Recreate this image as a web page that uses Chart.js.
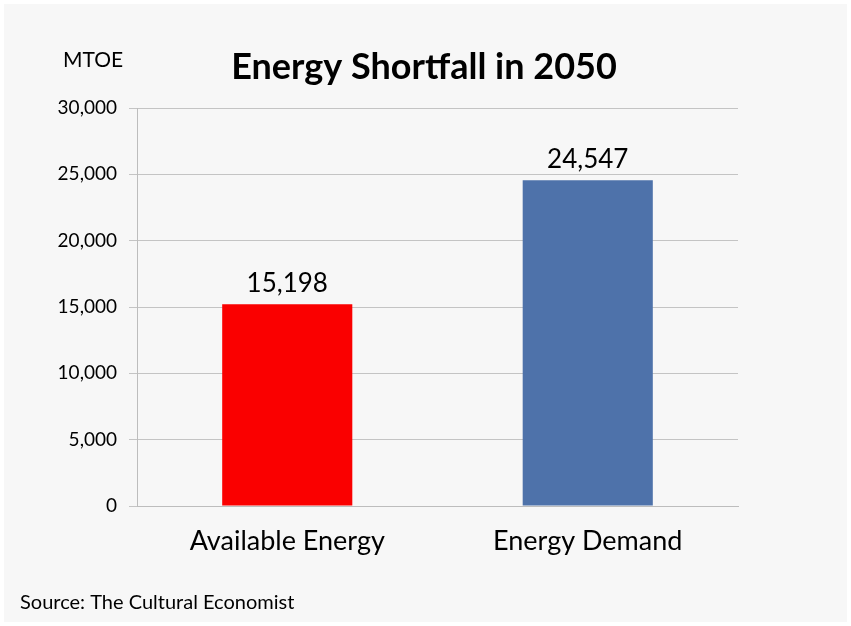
<!DOCTYPE html>
<html>
<head>
<meta charset="utf-8">
<script src="https://cdn.jsdelivr.net/npm/chart.js@4.4.1/dist/chart.umd.min.js"></script>
<style>
  html, body { margin: 0; padding: 0; background: #f7f7f7; }
  #wrap { position: relative; width: 851px; height: 626px; }
</style>
</head>
<body>
<div id="wrap"><canvas id="chart" width="851" height="626"></canvas></div>
<script>
// chart data
const categories = ['Available Energy', 'Energy Demand'];
const values = [15198, 24547];
const barColors = ['#fa0000', '#4e72aa'];
const yTicks = [0, 5000, 10000, 15000, 20000, 25000, 30000];

const chartTitle = 'Energy Shortfall in 2050';
const unitLabel = 'MTOE';
const sourceText = 'Source: The Cultural Economist';

const FONT = 'Lato, "Open Sans", sans-serif';
const fmt = v => v.toLocaleString('en-US');

// background, title, unit label, source and value labels
const decorPlugin = {
    id: 'decor',
    beforeDraw(chart) {
        const c = chart.ctx;
        c.save();
        c.fillStyle = '#ffffff';
        c.fillRect(0, 0, chart.width, chart.height);
        c.fillStyle = '#f7f7f7';
        c.fillRect(4, 4, chart.width - 8, chart.height - 8);
        c.restore();
    },
    afterDatasetsDraw(chart) {
        const c = chart.ctx;
        c.save();
        c.fillStyle = '#000';
        c.textAlign = 'center';
        c.textBaseline = 'middle';
        c.font = 'bold 36px ' + FONT;
        c.fillText(chartTitle, 424, 67);
        c.font = '21px ' + FONT;
        c.fillText(unitLabel, 93, 60);
        c.font = '20px ' + FONT;
        c.textAlign = 'left';
        c.fillText(sourceText, 20, 603);

        c.textAlign = 'center';
        c.textBaseline = 'bottom';
        c.font = '26px ' + FONT;
        chart.getDatasetMeta(0).data.forEach((bar, i) => {
            c.fillText(fmt(values[i]), bar.x, bar.y - 8);
        });
        c.restore();
    }
};

new Chart(document.getElementById('chart'), {
    type: 'bar',
    data: {
        labels: categories,
        datasets: [{
            data: values,
            backgroundColor: barColors,
            borderWidth: 0,
            categoryPercentage: 1,
            barPercentage: 0.433
        }]
    },
    options: {
        responsive: false,
        animation: false,
        layout: { padding: { top: 108, right: 113, bottom: 0, left: 0 } },
        plugins: { legend: { display: false }, tooltip: { enabled: false }, title: { display: false } },
        scales: {
            x: {
                grid: { display: false },
                border: { display: true, color: '#bdbdbd' },
                ticks: { color: '#000', font: { family: FONT, size: 27 }, padding: 11 },
                afterFit(scale) { scale.height = 120; }
            },
            y: {
                min: 0,
                max: 30000,
                afterBuildTicks(scale) { scale.ticks = yTicks.map(v => ({ value: v })); },
                grid: { color: '#c4c4c4', tickLength: 8, drawTicks: true },
                border: { display: true, color: '#bdbdbd' },
                ticks: {
                    color: '#000',
                    font: { family: FONT, size: 19 },
                    padding: 12,
                    callback: v => fmt(v)
                },
                afterFit(scale) { scale.width = 137; }
            }
        }
    },
    plugins: [decorPlugin]
});
</script>
</body>
</html>
